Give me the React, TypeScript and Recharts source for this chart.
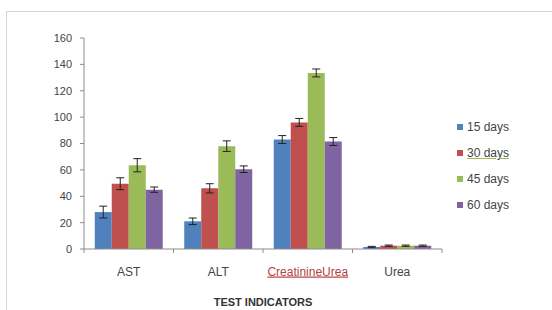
import React from 'react';
import { BarChart, Bar, XAxis, YAxis, ErrorBar } from 'recharts';

const categories = ['AST', 'ALT', 'CreatinineUrea', 'Urea'];
const days15 = [28, 21, 83, 1.5];
const days30 = [49.5, 46, 96, 2.5];
const days45 = [63.5, 78, 133.5, 2.5];
const days60 = [45, 60.5, 81.5, 2.5];
const err15 = [4.5, 2.5, 3, 0.5];
const err30 = [4.5, 3.5, 3, 0.5];
const err45 = [5, 4, 3, 0.5];
const err60 = [2, 2.5, 3, 0.5];
const yTicks = [0, 20, 40, 60, 80, 100, 120, 140, 160];
const seriesNames = ['15 days', '30 days', '45 days', '60 days'];
const seriesColors = ['#4F81BD', '#C0504D', '#9BBB59', '#8064A2'];

const data = categories.map((c, i) => ({
  name: c,
  d15: days15[i], e15: err15[i],
  d30: days30[i], e30: err30[i],
  d45: days45[i], e45: err45[i],
  d60: days60[i], e60: err60[i],
}));
const keys = [['d15', 'e15'], ['d30', 'e30'], ['d45', 'e45'], ['d60', 'e60']];

const FONT = '"Liberation Sans", Arial, sans-serif';

const XTick = (props: any) => {
  const { x, y, payload, index } = props;
  const off = payload.offset || 0;
  const isRed = payload.value === 'CreatinineUrea';
  return (
    <g>
      <line x1={x - off} x2={x - off} y1={249} y2={253} stroke="#8c8c8c" />
      {index === categories.length - 1 && (
        <line x1={x + off} x2={x + off} y1={249} y2={253} stroke="#8c8c8c" />
      )}
      <text
        x={x}
        y={y}
        dy="0.71em"
        textAnchor="middle"
        fontSize={12}
        fontFamily={FONT}
        fill={isRed ? '#b5423f' : '#444'}
        textDecoration={isRed ? 'underline' : undefined}
      >
        {payload.value}
      </text>
    </g>
  );
};

export default function App() {
  return (
    <div style={{ position: 'fixed', left: 0, top: 0, width: 552, height: 310, background: '#fff', overflow: 'hidden' }}>
      <div style={{ position: 'absolute', left: 6, top: 11, width: 600, height: 400, borderLeft: '1px solid #d4d4d4', borderTop: '1px solid #d4d4d4' }} />
      <BarChart
        width={552}
        height={310}
        data={data}
        margin={{ top: 38, right: 110, left: 0, bottom: 0 }}
        barCategoryGap="12%"
        barGap={0}
        style={{ position: 'absolute', left: 0, top: 0 }}
      >
        <YAxis
          width={84}
          domain={[0, 160]}
          ticks={yTicks}
          interval={0}
          tickSize={4}
          tickMargin={8}
          stroke="#8c8c8c"
          tick={{ fontSize: 11, fontFamily: FONT, fill: '#444' }}
        />
        <XAxis
          dataKey="name"
          height={61}
          interval={0}
          tickLine={false}
          tickSize={6}
          tickMargin={12}
          stroke="#8c8c8c"
          tick={<XTick />}
          label={{
            value: 'TEST INDICATORS',
            position: 'insideBottom',
            offset: 4,
            style: { fontSize: 11, fontWeight: 'bold', fontFamily: FONT, fill: '#333' },
          }}
        />
        {keys.map(([k, e], i) => (
          <Bar key={k} dataKey={k} name={seriesNames[i]} fill={seriesColors[i]} isAnimationActive={false}>
            <ErrorBar dataKey={e} width={4} stroke="#222" strokeWidth={1} direction="y" />
          </Bar>
        ))}
      </BarChart>
      <div style={{ position: 'absolute', left: 457, top: 114, fontFamily: FONT, fontSize: 12, color: '#444' }}>
        {seriesNames.map((n, i) => (
          <div key={n} style={{ display: 'flex', alignItems: 'center', height: 26 }}>
            <span style={{ display: 'inline-block', width: 6, height: 6, background: seriesColors[i], marginRight: 4 }} />
            <span
              style={
                i === 1
                  ? { textDecoration: 'underline', textDecorationColor: '#9BBB59' }
                  : undefined
              }
            >
              {n}
            </span>
          </div>
        ))}
      </div>
    </div>
  );
}
